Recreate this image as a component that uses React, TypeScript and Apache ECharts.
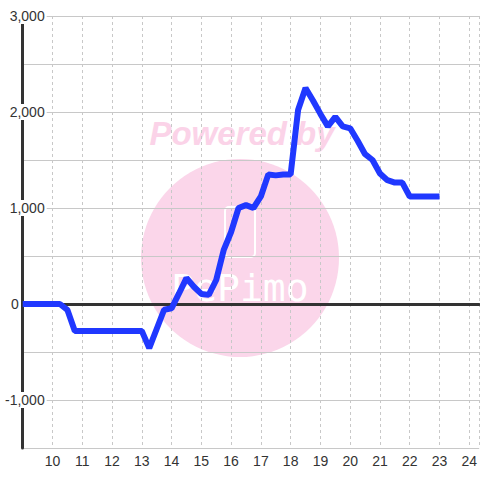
import React, { useEffect, useRef } from "react";
import * as echarts from "echarts";

const hours = [
  9, 9.25, 9.5, 9.75, 10, 10.25, 10.5, 10.75, 11, 11.25, 11.5, 11.75, 12, 12.25, 12.5, 12.75,
  13, 13.25, 13.5, 13.75, 14, 14.25, 14.5, 14.75, 15, 15.25, 15.5, 15.75, 16, 16.25, 16.5, 16.75,
  17, 17.25, 17.5, 17.75, 18, 18.25, 18.5, 18.75, 19, 19.25, 19.5, 19.75, 20, 20.25, 20.5, 20.75,
  21, 21.25, 21.5, 21.75, 22, 22.25, 22.5, 22.75, 23,
];
const profit = [
  0, 0, 0, 0, 0, 0, -60, -280, -280, -280, -280, -280, -280, -280, -280, -280,
  -280, -460, -260, -60, -45, 110, 270, 180, 105, 95, 250, 560, 750, 1000, 1030, 1000,
  1120, 1350, 1340, 1350, 1350, 2020, 2250, 2120, 1980, 1850, 1950, 1850, 1830, 1700, 1560, 1500,
  1360, 1290, 1265, 1265, 1120, 1120, 1120, 1120, 1120,
];
const xTickLabels = [10, 11, 12, 13, 14, 15, 16, 17, 18, 19, 20, 21, 22, 23, 24];
const yTickLabels = [3000, 2000, 1000, 0, -1000];

const fmt = (v: number) => (v < 0 ? "-" : "") + Math.abs(v).toLocaleString("en-US");

export default function App() {
  const ref = useRef<HTMLDivElement>(null);
  useEffect(() => {
    if (!ref.current) return;
    const chart = echarts.init(ref.current, null, { renderer: "svg" });
    const font = "'Liberation Sans', Arial, sans-serif";
    chart.setOption({
      animation: false,
      backgroundColor: "#ffffff",
      grid: { left: 20, right: 0, top: 16, bottom: 32, containLabel: false },
      xAxis: [
        {
          type: "value",
          min: 9,
          max: 24 + 1 / 3,
          interval: 1,
          axisLine: { show: false, onZero: false },
          axisTick: { show: false },
          splitLine: { show: true, lineStyle: { color: "#c8c8c8", width: 1, type: [3, 3] } },
          axisLabel: {
            margin: 6,
            fontSize: 14,
            fontFamily: font,
            color: "#333",
            showMinLabel: false,
            showMaxLabel: false,
            formatter: (v: number) => (xTickLabels.includes(v) ? String(v) : ""),
          },
        },
        {
          type: "value",
          min: 9,
          max: 24 + 1 / 3,
          interval: 1,
          axisLine: { show: true, onZero: true, lineStyle: { color: "#333", width: 3 } },
          axisTick: { show: false },
          axisLabel: { show: false },
          splitLine: { show: false },
        },
      ],
      yAxis: {
        type: "value",
        min: -1500,
        max: 3000,
        interval: 500,
        axisLine: { show: true, onZero: false, lineStyle: { color: "#333", width: 3 } },
        axisTick: { show: false },
        splitLine: { show: true, lineStyle: { color: "#c8c8c8", width: 1 } },
        axisLabel: {
          margin: -24,
          fontSize: 14,
          fontFamily: font,
          color: "#333",
          formatter: (v: number) => {
            if (!yTickLabels.includes(v)) return "";
            if (v === 0) return "{z|0}";
            return "{a|" + fmt(v) + "}";
          },
          rich: {
            a: {
              fontSize: 14,
              fontFamily: font,
              color: "#333",
              backgroundColor: "#ffffff",
              padding: [1, 2],
            },
            z: {
              fontSize: 14,
              fontFamily: font,
              color: "#333",
              padding: [0, 28, 0, 0],
            },
          },
        },
      },
      graphic: [
        {
          type: "circle",
          z: -10,
          silent: true,
          shape: { cx: 240, cy: 258, r: 99 },
          style: { fill: "#fbd6ea" },
        },
        {
          type: "text",
          z: -10,
          silent: true,
          x: 242,
          y: 133,
          style: {
            text: "Powered by",
            fill: "#fbd3e8",
            font: "italic bold 33px 'Liberation Sans', Arial, sans-serif",
            align: "center",
            verticalAlign: "middle",
          },
        },
        {
          type: "rect",
          z: -9,
          silent: true,
          shape: { x: 225, y: 207, width: 30, height: 50, r: 4 },
          style: { fill: "none", stroke: "#ffffff", lineWidth: 2 },
        },
        {
          type: "text",
          z: -9,
          silent: true,
          x: 240,
          y: 288,
          style: {
            text: "PePimo",
            fill: "#ffffff",
            font: "normal 38px 'DejaVu Sans Mono', monospace",
            align: "center",
            verticalAlign: "middle",
          },
        },
      ],
      series: [
        {
          type: "line",
          xAxisIndex: 0,
          yAxisIndex: 0,
          data: hours.map((h, i) => [h, profit[i]]),
          showSymbol: false,
          symbol: "none",
          lineStyle: { color: "#2038ff", width: 6 },
          z: 3,
        },
      ],
    });
    return () => chart.dispose();
  }, []);
  return (
    <div
      ref={ref}
      style={{ position: "fixed", left: 0, top: 0, width: 480, height: 480, background: "#fff" }}
    />
  );
}
